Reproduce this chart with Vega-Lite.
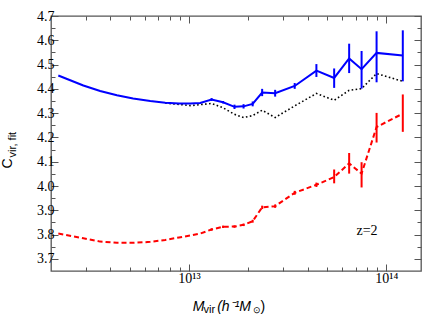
{
  "$schema": "https://vega.github.io/schema/vega-lite/v6.json",
  "width": 370,
  "height": 255,
  "autosize": "none",
  "padding": {"left": 51, "top": 16, "right": 4, "bottom": 48},
  "background": "white",
  "datasets": {
    "main": [
      {"s": "blue", "M": 2.178e12, "c": 4.455},
      {"s": "blue", "M": 2.917e12, "c": 4.414},
      {"s": "blue", "M": 3.548e12, "c": 4.391},
      {"s": "blue", "M": 4.315e12, "c": 4.374},
      {"s": "blue", "M": 5.212e12, "c": 4.360},
      {"s": "blue", "M": 6.368e12, "c": 4.350},
      {"s": "blue", "M": 7.586e12, "c": 4.343},
      {"s": "blue", "M": 8.913e12, "c": 4.340},
      {"s": "blue", "M": 1.016e13, "c": 4.340},
      {"s": "blue", "M": 1.140e13, "c": 4.342},
      {"s": "blue", "M": 1.303e13, "c": 4.356, "lo": 4.350, "hi": 4.362},
      {"s": "blue", "M": 1.489e13, "c": 4.345, "lo": 4.340, "hi": 4.350},
      {"s": "blue", "M": 1.702e13, "c": 4.326, "lo": 4.317, "hi": 4.335},
      {"s": "blue", "M": 1.892e13, "c": 4.328, "lo": 4.319, "hi": 4.337},
      {"s": "blue", "M": 2.104e13, "c": 4.338, "lo": 4.328, "hi": 4.348},
      {"s": "blue", "M": 2.350e13, "c": 4.385, "lo": 4.370, "hi": 4.400},
      {"s": "blue", "M": 2.735e13, "c": 4.382, "lo": 4.368, "hi": 4.396},
      {"s": "blue", "M": 3.436e13, "c": 4.412, "lo": 4.400, "hi": 4.424},
      {"s": "blue", "M": 4.426e13, "c": 4.475, "lo": 4.449, "hi": 4.502},
      {"s": "blue", "M": 5.445e13, "c": 4.445, "lo": 4.404, "hi": 4.484},
      {"s": "blue", "M": 6.486e13, "c": 4.525, "lo": 4.465, "hi": 4.586},
      {"s": "blue", "M": 7.499e13, "c": 4.481, "lo": 4.401, "hi": 4.556},
      {"s": "blue", "M": 8.933e13, "c": 4.548, "lo": 4.427, "hi": 4.637},
      {"s": "blue", "M": 1.213e14, "c": 4.537, "lo": 4.431, "hi": 4.641},
      {"s": "dot", "M": 7.586e12, "c": 4.341},
      {"s": "dot", "M": 8.913e12, "c": 4.336},
      {"s": "dot", "M": 1.016e13, "c": 4.331},
      {"s": "dot", "M": 1.140e13, "c": 4.335},
      {"s": "dot", "M": 1.303e13, "c": 4.340},
      {"s": "dot", "M": 1.489e13, "c": 4.322},
      {"s": "dot", "M": 1.702e13, "c": 4.295},
      {"s": "dot", "M": 1.892e13, "c": 4.282},
      {"s": "dot", "M": 2.104e13, "c": 4.290},
      {"s": "dot", "M": 2.350e13, "c": 4.312},
      {"s": "dot", "M": 2.735e13, "c": 4.282},
      {"s": "dot", "M": 3.436e13, "c": 4.330},
      {"s": "dot", "M": 4.426e13, "c": 4.381},
      {"s": "dot", "M": 5.445e13, "c": 4.353},
      {"s": "dot", "M": 6.486e13, "c": 4.394},
      {"s": "dot", "M": 7.499e13, "c": 4.401},
      {"s": "dot", "M": 8.933e13, "c": 4.463},
      {"s": "dot", "M": 1.213e14, "c": 4.431},
      {"s": "red", "M": 2.178e12, "c": 3.804},
      {"s": "red", "M": 2.917e12, "c": 3.785},
      {"s": "red", "M": 3.548e12, "c": 3.771},
      {"s": "red", "M": 4.315e12, "c": 3.766},
      {"s": "red", "M": 5.212e12, "c": 3.766},
      {"s": "red", "M": 6.368e12, "c": 3.770},
      {"s": "red", "M": 7.586e12, "c": 3.778},
      {"s": "red", "M": 8.913e12, "c": 3.788},
      {"s": "red", "M": 1.016e13, "c": 3.796},
      {"s": "red", "M": 1.140e13, "c": 3.804},
      {"s": "red", "M": 1.303e13, "c": 3.821, "lo": 3.816, "hi": 3.826},
      {"s": "red", "M": 1.489e13, "c": 3.832, "lo": 3.827, "hi": 3.837},
      {"s": "red", "M": 1.702e13, "c": 3.833, "lo": 3.828, "hi": 3.838},
      {"s": "red", "M": 1.892e13, "c": 3.840, "lo": 3.835, "hi": 3.845},
      {"s": "red", "M": 2.104e13, "c": 3.855, "lo": 3.849, "hi": 3.861},
      {"s": "red", "M": 2.350e13, "c": 3.912, "lo": 3.905, "hi": 3.919},
      {"s": "red", "M": 2.735e13, "c": 3.917, "lo": 3.910, "hi": 3.924},
      {"s": "red", "M": 3.436e13, "c": 3.972, "lo": 3.964, "hi": 3.980},
      {"s": "red", "M": 4.426e13, "c": 4.005, "lo": 3.996, "hi": 4.014},
      {"s": "red", "M": 5.445e13, "c": 4.037, "lo": 4.011, "hi": 4.068},
      {"s": "red", "M": 6.486e13, "c": 4.093, "lo": 4.051, "hi": 4.136},
      {"s": "red", "M": 7.499e13, "c": 4.051, "lo": 3.994, "hi": 4.098},
      {"s": "red", "M": 8.933e13, "c": 4.243, "lo": 4.179, "hi": 4.301},
      {"s": "red", "M": 1.213e14, "c": 4.298, "lo": 4.223, "hi": 4.377}
    ],
    "label": [
      {"M": 7.06e13, "c": 3.797, "t": "z=2"}
    ]
  },
  "data": {"name": "main"},
  "resolve": {"axis": {"x": "independent", "y": "independent"}},
  "layer": [
    {
      "transform": [{"filter": "datum.s === 'dot'"}],
      "mark": {"type": "line", "color": "black", "strokeWidth": 1.6, "strokeDash": [1.6, 2.4]},
      "encoding": {
        "x": {"field": "M", "type": "quantitative", "scale": {"type": "log", "domain": [2e12, 1.5e14], "nice": false},
          "axis": {"orient": "bottom", "values": [1e13, 1e14], "tickSize": -7, "labelPadding": 7,
            "labelExpr": "datum.value > 5e13 ? '10¹⁴' : '10¹³'", "labelFont": "Liberation Serif", "labelFontSize": 14,
            "title": "M", "titleFontStyle": "italic", "titleFontSize": 14, "titleX": 141.3, "titleY": 39,
            "titleAlign": "left", "titleBaseline": "alphabetic"}},
        "y": {"field": "c", "type": "quantitative", "scale": {"domain": [3.65, 4.7], "nice": false, "zero": false},
          "axis": {"orient": "left", "values": [3.7, 3.8, 3.9, 4.0, 4.1, 4.2, 4.3, 4.4, 4.5, 4.6, 4.7], "tickSize": -7,
            "labelPadding": 4, "format": ".1f", "labelFont": "Liberation Serif", "labelFontSize": 14,
            "title": "C", "titleFontSize": 14, "titleX": -39.5, "titleY": 152, "titleAngle": 270,
            "titleAlign": "left", "titleBaseline": "alphabetic"}}
      }
    },
    {
      "transform": [{"filter": "datum.s === 'blue'"}],
      "mark": {"type": "line", "color": "#0000ff", "strokeWidth": 2},
      "encoding": {
        "x": {"field": "M", "type": "quantitative", "scale": {"type": "log", "domain": [2e12, 1.5e14], "nice": false},
          "axis": {"orient": "bottom", "values": [3e12, 4e12, 5e12, 6e12, 7e12, 8e12, 9e12, 2e13, 3e13, 4e13, 5e13, 6e13, 7e13, 8e13, 9e13],
            "tickSize": -4, "labels": false,
            "title": "vir", "titleFontSize": 11, "titleX": 152, "titleY": 41,
            "titleAlign": "left", "titleBaseline": "alphabetic"}},
        "y": {"field": "c", "type": "quantitative", "scale": {"domain": [3.65, 4.7], "nice": false, "zero": false},
          "axis": {"orient": "left", "values": [3.75, 3.85, 3.95, 4.05, 4.15, 4.25, 4.35, 4.45, 4.55, 4.65], "tickSize": -4,
            "labels": false,
            "title": "vir, fit", "titleFontSize": 11, "titleX": -36, "titleY": 141, "titleAngle": 270,
            "titleAlign": "left", "titleBaseline": "alphabetic"}}
      }
    },
    {
      "transform": [{"filter": "datum.s === 'blue' && isValid(datum.lo)"}],
      "mark": {"type": "rule", "color": "#0000ff", "strokeWidth": 2},
      "encoding": {
        "x": {"field": "M", "type": "quantitative", "scale": {"type": "log", "domain": [2e12, 1.5e14], "nice": false},
          "axis": {"orient": "top", "values": [1e13, 1e14], "tickSize": -7, "labels": false,
            "title": "(h⁻¹M", "titleFontStyle": "italic", "titleFontSize": 14, "titleX": 165.7, "titleY": 294,
            "titleAlign": "left", "titleBaseline": "alphabetic"}},
        "y": {"field": "lo", "type": "quantitative", "scale": {"domain": [3.65, 4.7], "nice": false, "zero": false},
          "axis": {"orient": "right", "values": [3.7, 3.8, 3.9, 4.0, 4.1, 4.2, 4.3, 4.4, 4.5, 4.6, 4.7], "tickSize": -7,
            "labels": false, "title": null}},
        "y2": {"field": "hi"}
      }
    },
    {
      "transform": [{"filter": "datum.s === 'red'"}],
      "mark": {"type": "line", "color": "#ff0000", "strokeWidth": 2, "strokeDash": [5, 3]},
      "encoding": {
        "x": {"field": "M", "type": "quantitative", "scale": {"type": "log", "domain": [2e12, 1.5e14], "nice": false},
          "axis": {"orient": "top", "values": [3e12, 4e12, 5e12, 6e12, 7e12, 8e12, 9e12, 2e13, 3e13, 4e13, 5e13, 6e13, 7e13, 8e13, 9e13],
            "tickSize": -4, "labels": false,
            "title": "⊙", "titleFontSize": 9, "titleX": 201, "titleY": 296,
            "titleAlign": "left", "titleBaseline": "alphabetic"}},
        "y": {"field": "c", "type": "quantitative", "scale": {"domain": [3.65, 4.7], "nice": false, "zero": false},
          "axis": {"orient": "right", "values": [3.75, 3.85, 3.95, 4.05, 4.15, 4.25, 4.35, 4.45, 4.55, 4.65], "tickSize": -4,
            "labels": false, "title": null}}
      }
    },
    {
      "transform": [{"filter": "datum.s === 'red' && isValid(datum.lo)"}],
      "mark": {"type": "rule", "color": "#ff0000", "strokeWidth": 2},
      "encoding": {
        "x": {"field": "M", "type": "quantitative", "scale": {"type": "log", "domain": [2e12, 1.5e14], "nice": false},
          "axis": {"orient": "bottom", "values": [], "ticks": false, "labels": false,
            "title": ")", "titleFontSize": 14, "titleX": 209, "titleY": 39,
            "titleAlign": "left", "titleBaseline": "alphabetic"}},
        "y": {"field": "lo", "type": "quantitative", "scale": {"domain": [3.65, 4.7], "nice": false, "zero": false}, "axis": null},
        "y2": {"field": "hi"}
      }
    },
    {
      "data": {"name": "label"},
      "mark": {"type": "text", "align": "left", "baseline": "alphabetic", "font": "Liberation Serif", "fontSize": 14, "color": "black"},
      "encoding": {
        "x": {"field": "M", "type": "quantitative", "scale": {"type": "log", "domain": [2e12, 1.5e14], "nice": false}, "axis": null},
        "y": {"field": "c", "type": "quantitative", "scale": {"domain": [3.65, 4.7], "nice": false, "zero": false}, "axis": null},
        "text": {"field": "t"}
      }
    }
  ],
  "config": {
    "view": {"stroke": "#555555", "strokeWidth": 1.3},
    "axis": {"domain": false, "grid": false, "tickColor": "#555555", "tickWidth": 1,
      "labelFont": "Liberation Serif", "labelFontSize": 14, "labelColor": "black",
      "titleFont": "Liberation Sans", "titleColor": "black", "titleFontWeight": "normal"}
  }
}
